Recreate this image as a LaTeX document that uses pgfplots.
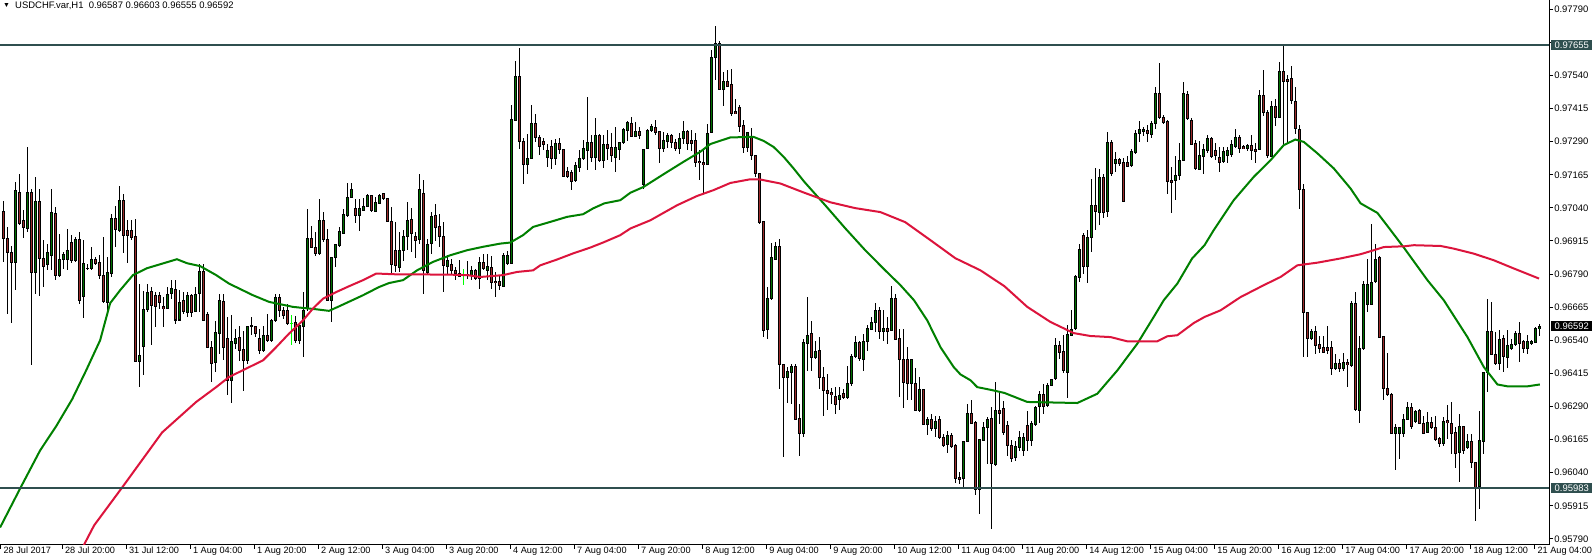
\documentclass[border=0pt]{standalone}
\usepackage{fontspec}
\setmainfont{Liberation Sans}
\usepackage{pgfplots}
\usepackage{pgfplotstable}
\pgfplotsset{compat=1.18}
\definecolor{bullfill}{HTML}{007000}
\definecolor{bearfill}{HTML}{9B2A2A}
\definecolor{magreen}{HTML}{008000}
\definecolor{mared}{HTML}{DC143C}
\definecolor{dojilime}{HTML}{00FF00}
\definecolor{slate}{HTML}{2F4F4F}

% USDCHF H1 candles: index, open, high, low, close
\pgfplotstableread{
x o h l c
0 0.97025 0.97069 0.96836 0.96924
1 0.96924 0.96968 0.96641 0.96874
2 0.96874 0.96899 0.96606 0.96836
3 0.96836 0.97139 0.96729 0.97107
4 0.97101 0.97170 0.96975 0.96984
5 0.96994 0.97031 0.96927 0.96966
6 0.96965 0.97271 0.96950 0.97098
7 0.97098 0.97113 0.96448 0.96798
8 0.96796 0.97155 0.96714 0.97065
9 0.97065 0.97113 0.96710 0.96851
10 0.96851 0.96918 0.96742 0.96820
11 0.96824 0.96905 0.96805 0.96871
12 0.96861 0.97111 0.96807 0.97025
13 0.97019 0.97044 0.96767 0.96786
14 0.96786 0.96943 0.96779 0.96846
15 0.96845 0.96874 0.96811 0.96864
16 0.96845 0.96962 0.96805 0.96880
17 0.96909 0.96937 0.96832 0.96842
18 0.96842 0.96931 0.96836 0.96922
19 0.96922 0.96950 0.96679 0.96691
20 0.96704 0.96918 0.96624 0.96830
21 0.96812 0.96830 0.96805 0.96811
22 0.96811 0.96893 0.96808 0.96846
23 0.96846 0.96855 0.96824 0.96830
24 0.96834 0.96861 0.96773 0.96786
25 0.96786 0.96931 0.96679 0.96685
26 0.96682 0.96855 0.96641 0.96796
27 0.96792 0.97019 0.96779 0.97000
28 0.97000 0.97050 0.96895 0.96960
29 0.96956 0.97122 0.96950 0.97067
30 0.97069 0.97094 0.96870 0.96937
31 0.96956 0.96994 0.96832 0.96937
32 0.96956 0.96994 0.96918 0.96931
33 0.96931 0.97000 0.96461 0.96462
34 0.96462 0.96754 0.96364 0.96483
35 0.96519 0.96729 0.96410 0.96657
36 0.96657 0.96754 0.96647 0.96723
37 0.96723 0.96742 0.96525 0.96670
38 0.96710 0.96723 0.96590 0.96670
39 0.96710 0.96723 0.96660 0.96682
40 0.96666 0.96704 0.96590 0.96660
41 0.96662 0.96742 0.96660 0.96713
42 0.96716 0.96767 0.96698 0.96735
43 0.96735 0.96767 0.96603 0.96618
44 0.96618 0.96729 0.96616 0.96685
45 0.96691 0.96723 0.96641 0.96647
46 0.96647 0.96723 0.96628 0.96710
47 0.96708 0.96716 0.96628 0.96647
48 0.96649 0.96742 0.96647 0.96713
49 0.96716 0.96829 0.96647 0.96800
50 0.96800 0.96829 0.96613 0.96615
51 0.96640 0.96647 0.96512 0.96514
52 0.96512 0.96540 0.96382 0.96454
53 0.96455 0.96615 0.96420 0.96569
54 0.96565 0.96716 0.96489 0.96691
55 0.96685 0.96716 0.96464 0.96514
56 0.96546 0.96628 0.96332 0.96388
57 0.96388 0.96638 0.96304 0.96536
58 0.96530 0.96584 0.96508 0.96548
59 0.96550 0.96596 0.96464 0.96504
60 0.96506 0.96577 0.96351 0.96464
61 0.96464 0.96596 0.96451 0.96593
62 0.96594 0.96628 0.96559 0.96596
63 0.96593 0.96596 0.96552 0.96565
64 0.96548 0.96584 0.96489 0.96502
65 0.96502 0.96593 0.96496 0.96559
66 0.96559 0.96638 0.96533 0.96540
67 0.96540 0.96622 0.96533 0.96615
68 0.96615 0.96716 0.96609 0.96703
69 0.96703 0.96716 0.96628 0.96653
70 0.96653 0.96666 0.96622 0.96634
71 0.96653 0.96678 0.96596 0.96605
72 0.96605 0.96634 0.96521 0.96605
73 0.96606 0.96634 0.96533 0.96540
74 0.96540 0.96596 0.96527 0.96594
75 0.96593 0.96722 0.96477 0.96653
76 0.96659 0.97037 0.96653 0.96924
77 0.96924 0.96974 0.96890 0.96892
78 0.96892 0.96949 0.96861 0.96870
79 0.96867 0.97075 0.96863 0.96993
80 0.96993 0.97025 0.96911 0.96921
81 0.96921 0.96962 0.96691 0.96691
82 0.96691 0.96855 0.96609 0.96852
83 0.96852 0.96905 0.96817 0.96902
84 0.96899 0.96968 0.96892 0.96949
85 0.96945 0.97037 0.96943 0.97016
86 0.97012 0.97132 0.97006 0.97079
87 0.97081 0.97136 0.97079 0.97110
88 0.97037 0.97075 0.96981 0.97010
89 0.97010 0.97075 0.96955 0.97037
90 0.97031 0.97079 0.97029 0.97046
91 0.97046 0.97094 0.97044 0.97088
92 0.97088 0.97091 0.97025 0.97031
93 0.97028 0.97081 0.97025 0.97060
94 0.97059 0.97094 0.97056 0.97090
95 0.97094 0.97098 0.97073 0.97075
96 0.97075 0.97075 0.96987 0.96991
97 0.96989 0.97044 0.96794 0.96826
98 0.96880 0.96987 0.96798 0.96823
99 0.96817 0.96949 0.96798 0.96880
100 0.96880 0.96956 0.96842 0.96931
101 0.96931 0.97063 0.96880 0.96994
102 0.96997 0.97038 0.96874 0.96943
103 0.96933 0.96950 0.96849 0.96918
104 0.96922 0.97170 0.96905 0.97111
105 0.97094 0.97145 0.96716 0.96805
106 0.96798 0.96924 0.96792 0.96905
107 0.96908 0.97025 0.96868 0.97009
108 0.97013 0.97057 0.96918 0.96968
109 0.96971 0.97016 0.96893 0.96931
110 0.96933 0.96987 0.96723 0.96820
111 0.96820 0.96861 0.96792 0.96842
112 0.96826 0.96849 0.96792 0.96802
113 0.96805 0.96817 0.96767 0.96792
114 0.96792 0.96842 0.96779 0.96782
115 0.96786 0.96811 0.96748 0.96786
116 0.96787 0.96842 0.96773 0.96784
117 0.96786 0.96820 0.96767 0.96805
118 0.96805 0.96811 0.96767 0.96773
119 0.96773 0.96855 0.96735 0.96836
120 0.96836 0.96868 0.96805 0.96811
121 0.96805 0.96868 0.96767 0.96817
122 0.96817 0.96861 0.96735 0.96761
123 0.96764 0.96798 0.96704 0.96758
124 0.96761 0.96786 0.96729 0.96745
125 0.96745 0.96868 0.96742 0.96861
126 0.96830 0.96880 0.96827 0.96861
127 0.96830 0.97428 0.96827 0.97375
128 0.97372 0.97596 0.97369 0.97535
129 0.97535 0.97643 0.97265 0.97290
130 0.97292 0.97306 0.97132 0.97204
131 0.97204 0.97321 0.97170 0.97229
132 0.97229 0.97428 0.97227 0.97359
133 0.97359 0.97394 0.97290 0.97305
134 0.97305 0.97315 0.97239 0.97271
135 0.97290 0.97306 0.97258 0.97280
136 0.97229 0.97283 0.97195 0.97258
137 0.97273 0.97296 0.97189 0.97229
138 0.97227 0.97299 0.97202 0.97283
139 0.97283 0.97306 0.97246 0.97261
140 0.97261 0.97265 0.97157 0.97161
141 0.97176 0.97195 0.97151 0.97160
142 0.97176 0.97183 0.97110 0.97141
143 0.97141 0.97214 0.97139 0.97198
144 0.97195 0.97258 0.97176 0.97227
145 0.97227 0.97299 0.97223 0.97265
146 0.97258 0.97460 0.97183 0.97287
147 0.97287 0.97315 0.97214 0.97231
148 0.97231 0.97378 0.97183 0.97315
149 0.97315 0.97321 0.97214 0.97218
150 0.97218 0.97315 0.97189 0.97281
151 0.97279 0.97333 0.97220 0.97266
152 0.97268 0.97324 0.97214 0.97236
153 0.97232 0.97346 0.97176 0.97268
154 0.97261 0.97289 0.97222 0.97287
155 0.97287 0.97343 0.97283 0.97337
156 0.97333 0.97368 0.97293 0.97362
157 0.97358 0.97384 0.97308 0.97312
158 0.97312 0.97365 0.97308 0.97328
159 0.97329 0.97348 0.97302 0.97314
160 0.97129 0.97264 0.97113 0.97261
161 0.97266 0.97340 0.97264 0.97333
162 0.97331 0.97358 0.97327 0.97348
163 0.97343 0.97371 0.97314 0.97327
164 0.97329 0.97333 0.97210 0.97266
165 0.97264 0.97327 0.97251 0.97295
166 0.97293 0.97323 0.97268 0.97314
167 0.97314 0.97321 0.97266 0.97289
168 0.97289 0.97302 0.97255 0.97264
169 0.97266 0.97323 0.97245 0.97304
170 0.97302 0.97368 0.97280 0.97329
171 0.97329 0.97336 0.97258 0.97283
172 0.97295 0.97336 0.97255 0.97283
173 0.97295 0.97321 0.97195 0.97211
174 0.97216 0.97258 0.97147 0.97211
175 0.97211 0.97258 0.97094 0.97203
176 0.97203 0.97356 0.97201 0.97321
177 0.97327 0.97636 0.97324 0.97610
178 0.97608 0.97726 0.97522 0.97661
179 0.97661 0.97671 0.97484 0.97487
180 0.97487 0.97554 0.97424 0.97518
181 0.97518 0.97560 0.97500 0.97501
182 0.97506 0.97563 0.97387 0.97396
183 0.97405 0.97453 0.97394 0.97396
184 0.97419 0.97428 0.97327 0.97348
185 0.97351 0.97371 0.97249 0.97270
186 0.97270 0.97327 0.97251 0.97324
187 0.97308 0.97340 0.97222 0.97241
188 0.97239 0.97242 0.97157 0.97169
189 0.97169 0.97172 0.96978 0.96984
190 0.96987 0.96987 0.96555 0.96577
191 0.96580 0.96741 0.96546 0.96697
192 0.96697 0.96907 0.96691 0.96852
193 0.96848 0.96911 0.96844 0.96895
194 0.96896 0.96924 0.96357 0.96449
195 0.96449 0.96451 0.96101 0.96398
196 0.96398 0.96439 0.96306 0.96422
197 0.96420 0.96449 0.96300 0.96441
198 0.96441 0.96451 0.96237 0.96243
199 0.96246 0.96300 0.96105 0.96189
200 0.96189 0.96546 0.96174 0.96533
201 0.96527 0.96703 0.96426 0.96558
202 0.96567 0.96615 0.96426 0.96476
203 0.96476 0.96539 0.96470 0.96498
204 0.96502 0.96552 0.96357 0.96401
205 0.96401 0.96439 0.96256 0.96350
206 0.96350 0.96413 0.96275 0.96340
207 0.96342 0.96363 0.96300 0.96335
208 0.96328 0.96363 0.96262 0.96300
209 0.96316 0.96363 0.96277 0.96334
210 0.96338 0.96357 0.96319 0.96323
211 0.96323 0.96445 0.96319 0.96379
212 0.96376 0.96489 0.96369 0.96481
213 0.96479 0.96558 0.96474 0.96531
214 0.96531 0.96537 0.96464 0.96470
215 0.96470 0.96565 0.96426 0.96538
216 0.96537 0.96596 0.96498 0.96587
217 0.96581 0.96628 0.96580 0.96609
218 0.96609 0.96684 0.96571 0.96655
219 0.96655 0.96665 0.96546 0.96575
220 0.96575 0.96653 0.96539 0.96587
221 0.96587 0.96628 0.96529 0.96575
222 0.96577 0.96747 0.96577 0.96697
223 0.96697 0.96716 0.96542 0.96543
224 0.96546 0.96584 0.96325 0.96470
225 0.96470 0.96584 0.96287 0.96382
226 0.96466 0.96514 0.96313 0.96378
227 0.96378 0.96470 0.96313 0.96466
228 0.96378 0.96436 0.96275 0.96277
229 0.96277 0.96403 0.96269 0.96354
230 0.96354 0.96357 0.96218 0.96224
231 0.96224 0.96250 0.96183 0.96240
232 0.96241 0.96262 0.96199 0.96206
233 0.96206 0.96256 0.96177 0.96234
234 0.96240 0.96256 0.96168 0.96174
235 0.96174 0.96187 0.96136 0.96143
236 0.96145 0.96197 0.96117 0.96180
237 0.96180 0.96190 0.96136 0.96139
238 0.96143 0.96149 0.96004 0.96017
239 0.96023 0.96042 0.95998 0.96017
240 0.96017 0.96161 0.95985 0.96159
241 0.96159 0.96300 0.96155 0.96266
242 0.96266 0.96313 0.96224 0.96228
243 0.96231 0.96234 0.95957 0.95979
244 0.95979 0.96168 0.95884 0.96168
245 0.96164 0.96231 0.96161 0.96212
246 0.96212 0.96252 0.96073 0.96243
247 0.96243 0.96287 0.95828 0.96073
248 0.96073 0.96382 0.96067 0.96275
249 0.96275 0.96344 0.96224 0.96265
250 0.96283 0.96313 0.96185 0.96192
251 0.96219 0.96237 0.96105 0.96143
252 0.96143 0.96162 0.96079 0.96094
253 0.96098 0.96162 0.96086 0.96139
254 0.96135 0.96200 0.96124 0.96173
255 0.96124 0.96192 0.96105 0.96173
256 0.96219 0.96275 0.96124 0.96162
257 0.96162 0.96235 0.96143 0.96227
258 0.96225 0.96294 0.96219 0.96288
259 0.96290 0.96348 0.96227 0.96336
260 0.96336 0.96376 0.96263 0.96293
261 0.96294 0.96379 0.96290 0.96372
262 0.96372 0.96397 0.96370 0.96395
263 0.96395 0.96552 0.96392 0.96521
264 0.96521 0.96540 0.96471 0.96496
265 0.96496 0.96559 0.96416 0.96424
266 0.96420 0.96597 0.96323 0.96561
267 0.96561 0.96656 0.96559 0.96584
268 0.96584 0.96786 0.96581 0.96782
269 0.96779 0.96905 0.96760 0.96884
270 0.96937 0.96946 0.96792 0.96821
271 0.96821 0.96956 0.96757 0.96928
272 0.96928 0.97148 0.96874 0.97050
273 0.97050 0.97191 0.96956 0.97025
274 0.97025 0.97189 0.96975 0.97157
275 0.97157 0.97167 0.97003 0.97025
276 0.97025 0.97327 0.97006 0.97288
277 0.97288 0.97296 0.97160 0.97170
278 0.97208 0.97252 0.97176 0.97223
279 0.97223 0.97227 0.97198 0.97210
280 0.97210 0.97230 0.97063 0.97065
281 0.97213 0.97235 0.97195 0.97199
282 0.97199 0.97264 0.97195 0.97254
283 0.97252 0.97334 0.97245 0.97321
284 0.97321 0.97369 0.97290 0.97337
285 0.97330 0.97346 0.97311 0.97337
286 0.97334 0.97353 0.97290 0.97321
287 0.97318 0.97371 0.97306 0.97359
288 0.97361 0.97497 0.97340 0.97472
289 0.97472 0.97586 0.97375 0.97381
290 0.97381 0.97390 0.97359 0.97363
291 0.97368 0.97371 0.97094 0.97141
292 0.97145 0.97195 0.97019 0.97138
293 0.97142 0.97235 0.97069 0.97164
294 0.97161 0.97286 0.97147 0.97220
295 0.97220 0.97516 0.97218 0.97470
296 0.97470 0.97482 0.97371 0.97378
297 0.97371 0.97378 0.97277 0.97281
298 0.97283 0.97296 0.97185 0.97189
299 0.97185 0.97293 0.97182 0.97239
300 0.97235 0.97283 0.97167 0.97261
301 0.97258 0.97315 0.97248 0.97303
302 0.97303 0.97309 0.97231 0.97236
303 0.97258 0.97284 0.97221 0.97237
304 0.97233 0.97269 0.97177 0.97212
305 0.97214 0.97271 0.97211 0.97255
306 0.97237 0.97271 0.97211 0.97256
307 0.97242 0.97296 0.97233 0.97277
308 0.97271 0.97338 0.97269 0.97306
309 0.97306 0.97315 0.97248 0.97267
310 0.97271 0.97277 0.97261 0.97265
311 0.97265 0.97284 0.97256 0.97277
312 0.97277 0.97315 0.97221 0.97256
313 0.97262 0.97284 0.97208 0.97255
314 0.97262 0.97485 0.97258 0.97466
315 0.97466 0.97561 0.97387 0.97400
316 0.97400 0.97410 0.97231 0.97236
317 0.97236 0.97445 0.97233 0.97425
318 0.97425 0.97451 0.97350 0.97382
319 0.97382 0.97591 0.97378 0.97557
320 0.97557 0.97652 0.97284 0.97520
321 0.97526 0.97542 0.97284 0.97520
322 0.97529 0.97576 0.97432 0.97445
323 0.97444 0.97498 0.97321 0.97340
324 0.97338 0.97353 0.97038 0.97110
325 0.97110 0.97132 0.96477 0.96647
326 0.96645 0.96647 0.96480 0.96547
327 0.96547 0.96584 0.96543 0.96574
328 0.96574 0.96597 0.96490 0.96521
329 0.96525 0.96555 0.96490 0.96509
330 0.96512 0.96559 0.96492 0.96496
331 0.96512 0.96593 0.96490 0.96502
332 0.96512 0.96540 0.96410 0.96433
333 0.96433 0.96490 0.96427 0.96452
334 0.96452 0.96471 0.96421 0.96433
335 0.96433 0.96492 0.96427 0.96456
336 0.96456 0.96471 0.96366 0.96448
337 0.96448 0.96689 0.96439 0.96679
338 0.96679 0.96723 0.96276 0.96278
339 0.96276 0.96555 0.96228 0.96509
340 0.96509 0.96764 0.96505 0.96752
341 0.96676 0.96849 0.96647 0.96752
342 0.96676 0.96981 0.96673 0.96758
343 0.96761 0.96906 0.96757 0.96846
344 0.96855 0.96858 0.96550 0.96553
345 0.96555 0.96555 0.96313 0.96358
346 0.96358 0.96492 0.96332 0.96335
347 0.96335 0.96339 0.96185 0.96187
348 0.96187 0.96225 0.96051 0.96210
349 0.96187 0.96215 0.96093 0.96210
350 0.96190 0.96263 0.96175 0.96240
351 0.96240 0.96307 0.96238 0.96286
352 0.96286 0.96303 0.96206 0.96216
353 0.96232 0.96278 0.96228 0.96273
354 0.96276 0.96279 0.96223 0.96225
355 0.96225 0.96253 0.96185 0.96190
356 0.96194 0.96269 0.96190 0.96229
357 0.96229 0.96250 0.96206 0.96213
358 0.96213 0.96257 0.96162 0.96166
359 0.96169 0.96175 0.96137 0.96152
360 0.96150 0.96250 0.96143 0.96234
361 0.96238 0.96295 0.96169 0.96228
362 0.96229 0.96307 0.96112 0.96190
363 0.96190 0.96213 0.96059 0.96114
364 0.96118 0.96263 0.96005 0.96213
365 0.96213 0.96213 0.96112 0.96124
366 0.96134 0.96185 0.96131 0.96158
367 0.96158 0.96187 0.96059 0.96077
368 0.96077 0.96080 0.95860 0.95986
369 0.95986 0.96273 0.95904 0.96162
370 0.96160 0.96421 0.96112 0.96417
371 0.96417 0.96698 0.96345 0.96572
372 0.96572 0.96685 0.96484 0.96487
373 0.96487 0.96572 0.96446 0.96452
374 0.96452 0.96578 0.96429 0.96543
375 0.96547 0.96559 0.96421 0.96477
376 0.96477 0.96578 0.96437 0.96521
377 0.96509 0.96543 0.96502 0.96524
378 0.96524 0.96578 0.96521 0.96568
379 0.96568 0.96610 0.96458 0.96528
380 0.96534 0.96540 0.96490 0.96509
381 0.96509 0.96559 0.96490 0.96536
382 0.96530 0.96540 0.96521 0.96536
383 0.96534 0.96591 0.96530 0.96587
384 0.96587 0.96603 0.96555 0.96592
}\candles

\begin{document}
\begin{tikzpicture}
\useasboundingbox[fill=white] (0,0) rectangle (1592bp,560bp);
\begin{axis}[
  name=ax,
  at={(0,560bp)}, anchor=north west,
  width=1549bp, height=545bp, scale only axis,
  xmin=-0.825, xmax=386.3,
  ymin=0.957668, ymax=0.97825,
  axis x line*=bottom, axis y line*=right,
  axis line style={-, black, line width=1bp},
  every outer x axis line/.append style={-},
  every outer y axis line/.append style={-},
  tick align=outside, major tick length=4bp,
  tick style={black, line width=1bp},
  xtick={14.75,30.75,46.75,62.75,78.75,94.75,110.75,126.75,142.75,158.75,174.75,190.75,206.75,222.75,238.75,254.75,270.75,286.75,302.75,318.75,334.75,350.75,366.75,382.75},
  xticklabels={28 Jul 20:00,31 Jul 12:00,1 Aug 04:00,1 Aug 20:00,2 Aug 12:00,3 Aug 04:00,3 Aug 20:00,4 Aug 12:00,7 Aug 04:00,7 Aug 20:00,8 Aug 12:00,9 Aug 04:00,9 Aug 20:00,10 Aug 12:00,11 Aug 04:00,11 Aug 20:00,14 Aug 12:00,15 Aug 04:00,15 Aug 20:00,16 Aug 12:00,17 Aug 04:00,17 Aug 20:00,18 Aug 12:00,21 Aug 04:00},
  extra x ticks={-0.6},
  extra x tick labels={28 Jul 2017},
  ytick={0.9579,0.95915,0.9604,0.96165,0.9629,0.96415,0.9654,0.96665,0.9679,0.96915,0.9704,0.97165,0.9729,0.97415,0.9754,0.97665,0.9779},
  yticklabels={0.95790,0.95915,0.96040,0.96165,0.96290,0.96415,0.96540,0.96665,0.96790,0.96915,0.97040,0.97165,0.97290,0.97415,0.97540,{},0.97790},
  x tick label style={anchor=north west, inner sep=0pt, xshift=2.5bp, yshift=2bp, font=\fontsize{9.2}{11}\selectfont},
  y tick label style={anchor=west, inner sep=0pt, xshift=1bp, font=\fontsize{9.5}{11}\selectfont},
]
% wicks
\addplot[draw=none, mark=none, forget plot,
  error bars/.cd, y dir=both, y explicit, error mark=none,
  error bar style={draw=black, line width=1bp}]
  table[x=x, y expr={(\thisrow{h}+\thisrow{l})/2}, y error expr={(\thisrow{h}-\thisrow{l})/2}] {\candles};
% bull bodies
\addplot[draw=none, mark=none, forget plot,
  restrict expr to domain={\thisrow{c}-\thisrow{o}}{0.000001:1},
  error bars/.cd, y dir=both, y explicit, error mark=none,
  error bar style={draw=black, line width=3bp}]
  table[x=x, y expr={(\thisrow{o}+\thisrow{c})/2}, y error expr={abs(\thisrow{c}-\thisrow{o})/2+0.0000189}] {\candles};
\addplot[draw=none, mark=none, forget plot,
  restrict expr to domain={\thisrow{c}-\thisrow{o}}{0.000001:1},
  error bars/.cd, y dir=both, y explicit, error mark=none,
  error bar style={draw=bullfill, line width=1bp}]
  table[x=x, y expr={(\thisrow{o}+\thisrow{c})/2}, y error expr={max(abs(\thisrow{c}-\thisrow{o})/2-0.0000189,0)}] {\candles};
% bear bodies
\addplot[draw=none, mark=none, forget plot,
  restrict expr to domain={\thisrow{c}-\thisrow{o}}{-1:-0.000001},
  error bars/.cd, y dir=both, y explicit, error mark=none,
  error bar style={draw=black, line width=3bp}]
  table[x=x, y expr={(\thisrow{o}+\thisrow{c})/2}, y error expr={abs(\thisrow{c}-\thisrow{o})/2+0.0000189}] {\candles};
\addplot[draw=none, mark=none, forget plot,
  restrict expr to domain={\thisrow{c}-\thisrow{o}}{-1:-0.000001},
  error bars/.cd, y dir=both, y explicit, error mark=none,
  error bar style={draw=bearfill, line width=1bp}]
  table[x=x, y expr={(\thisrow{o}+\thisrow{c})/2}, y error expr={max(abs(\thisrow{c}-\thisrow{o})/2-0.0000189,0)}] {\candles};
% doji (open = close)
\addplot[draw=none, mark=none, forget plot,
  restrict expr to domain={\thisrow{c}-\thisrow{o}}{-0.000001:0.000001},
  error bars/.cd, y dir=both, y explicit, error mark=none,
  error bar style={draw=dojilime, line width=1bp}]
  table[x=x, y expr={(\thisrow{h}+\thisrow{l})/2}, y error expr={(\thisrow{h}-\thisrow{l})/2}] {\candles};
\addplot[draw=none, mark=none, forget plot,
  restrict expr to domain={\thisrow{c}-\thisrow{o}}{-0.000001:0.000001},
  error bars/.cd, y dir=both, y explicit, error mark=none,
  error bar style={draw=dojilime, line width=3bp}]
  table[x=x, y=o, y error expr={0.0000189}] {\candles};

% fast moving average (green)
\addplot[magreen, line width=2bp, mark=none] coordinates {
(-0.8,0.95833) (4.2,0.95980) (9.2,0.96124) (13.2,0.96215) (17.2,0.96317) (20.7,0.96426) (24.2,0.96540) (26.7,0.96680) (29.2,0.96729) (32.4,0.96786) (35.9,0.96812) (39.2,0.96827) (43.4,0.96846) (45.9,0.96831) (49.2,0.96820) (53.2,0.96786) (56.4,0.96754) (62.4,0.96710) (66.4,0.96685) (72.4,0.96666) (78.2,0.96657) (81.4,0.96651) (83.9,0.96668) (89.9,0.96710) (93.9,0.96741) (96.4,0.96756) (99.9,0.96767) (103.4,0.96804) (107.4,0.96836) (111.7,0.96861) (115.9,0.96880) (119.9,0.96893) (124.2,0.96905) (126.7,0.96909) (129.9,0.96937) (132.4,0.96968) (136.7,0.96987) (140.9,0.97006) (144.9,0.97016) (147.4,0.97038) (150.2,0.97057) (154.2,0.97069) (156.7,0.97097) (160.0,0.97119) (165.0,0.97167) (170.0,0.97214) (174.2,0.97252) (176.7,0.97281) (181.7,0.97306) (187.5,0.97308) (190.0,0.97293) (192.5,0.97270) (195.0,0.97233) (197.5,0.97189) (200.2,0.97138) (205.4,0.97050) (210.4,0.96963) (215.4,0.96880) (220.4,0.96804) (224.2,0.96748) (227.6,0.96691) (230.9,0.96615) (234.2,0.96514) (237.5,0.96439) (239.2,0.96411) (241.7,0.96389) (243.4,0.96363) (246.7,0.96353) (250.2,0.96341) (255.9,0.96307) (268.4,0.96303) (273.4,0.96338) (278.4,0.96426) (283.4,0.96527) (287.5,0.96628) (290.0,0.96691) (293.4,0.96754) (297.1,0.96849) (300.2,0.96899) (302.5,0.96956) (307.5,0.97069) (312.5,0.97157) (316.7,0.97220) (320.0,0.97277) (322.9,0.97298) (325.0,0.97289) (328.4,0.97246) (332.5,0.97189) (336.7,0.97113) (339.2,0.97057) (343.4,0.97021) (346.7,0.96956) (350.2,0.96886) (355.9,0.96767) (360.0,0.96691) (365.9,0.96552) (370.0,0.96439) (373.4,0.96373) (375.9,0.96366) (380.9,0.96366) (384.0,0.96373)
};
% slow moving average (red)
\addplot[mared, line width=2bp, mark=none] coordinates {
(19.7,0.95754) (22.7,0.95841) (29.7,0.95984) (39.7,0.96192) (48.2,0.96307) (53.2,0.96363) (56.4,0.96401) (60.7,0.96433) (64.9,0.96464) (68.2,0.96514) (71.4,0.96565) (74.9,0.96615) (77.4,0.96660) (79.9,0.96697) (83.2,0.96722) (86.4,0.96744) (89.9,0.96767) (93.2,0.96792) (98.2,0.96789) (110.9,0.96788) (115.9,0.96786) (119.2,0.96779) (124.9,0.96786) (128.4,0.96798) (132.4,0.96804) (134.2,0.96823) (138.4,0.96845) (142.4,0.96868) (146.7,0.96890) (150.2,0.96911) (154.2,0.96937) (156.7,0.96962) (161.7,0.96993) (168.4,0.97050) (173.4,0.97085) (177.5,0.97107) (181.7,0.97134) (186.7,0.97148) (189.2,0.97147) (194.2,0.97132) (200.2,0.97097) (206.7,0.97061) (212.9,0.97039) (219.2,0.97024) (225.4,0.96986) (231.7,0.96918) (237.9,0.96850) (244.2,0.96804) (250.2,0.96744) (255.9,0.96666) (261.7,0.96609) (267.5,0.96567) (271.7,0.96556) (276.7,0.96552) (280.9,0.96536) (288.4,0.96536) (290.9,0.96555) (293.4,0.96559) (297.5,0.96605) (300.2,0.96628) (304.2,0.96653) (309.2,0.96703) (315.0,0.96748) (319.2,0.96779) (323.4,0.96823) (328.4,0.96833) (334.2,0.96849) (339.2,0.96865) (342.5,0.96880) (345.0,0.96892) (350.2,0.96895) (352.5,0.96899) (359.2,0.96896) (362.5,0.96886) (367.5,0.96867) (372.5,0.96842) (377.5,0.96811) (383.8,0.96773)
};
% horizontal levels
\addplot[slate, line width=2bp, mark=none] coordinates {(-0.825,0.97655) (386.3,0.97655)};
\addplot[slate, line width=2bp, mark=none] coordinates {(-0.825,0.95983) (386.3,0.95983)};
\coordinate (lvlA) at (axis cs:386.3,0.97655);
\coordinate (lvlB) at (axis cs:386.3,0.95983);
\coordinate (bid) at (axis cs:386.3,0.96592);
\end{axis}
\tikzset{pricebox/.style={anchor=west, inner sep=0pt, minimum width=42bp, minimum height=10bp, text=white, font=\fontsize{9.5}{11}\selectfont}}
\node[pricebox, fill=slate] at ([xshift=1.5bp]lvlA) {0.97655};
\node[pricebox, fill=slate] at ([xshift=1.5bp]lvlB) {0.95983};
\node[pricebox, fill=black] at ([xshift=1.5bp]bid) {0.96592};
\node[anchor=north west, inner sep=0pt, font=\fontsize{7}{8}\selectfont] at ([xshift=3bp,yshift=-3bp]ax.north west) {▼};
\node[anchor=north west, inner sep=0pt, font=\fontsize{9.5}{11}\selectfont] at ([xshift=15bp,yshift=-2bp]ax.north west) {USDCHF.var,H1\ \ 0.96587 0.96603 0.96555 0.96592};
\end{tikzpicture}
\end{document}
